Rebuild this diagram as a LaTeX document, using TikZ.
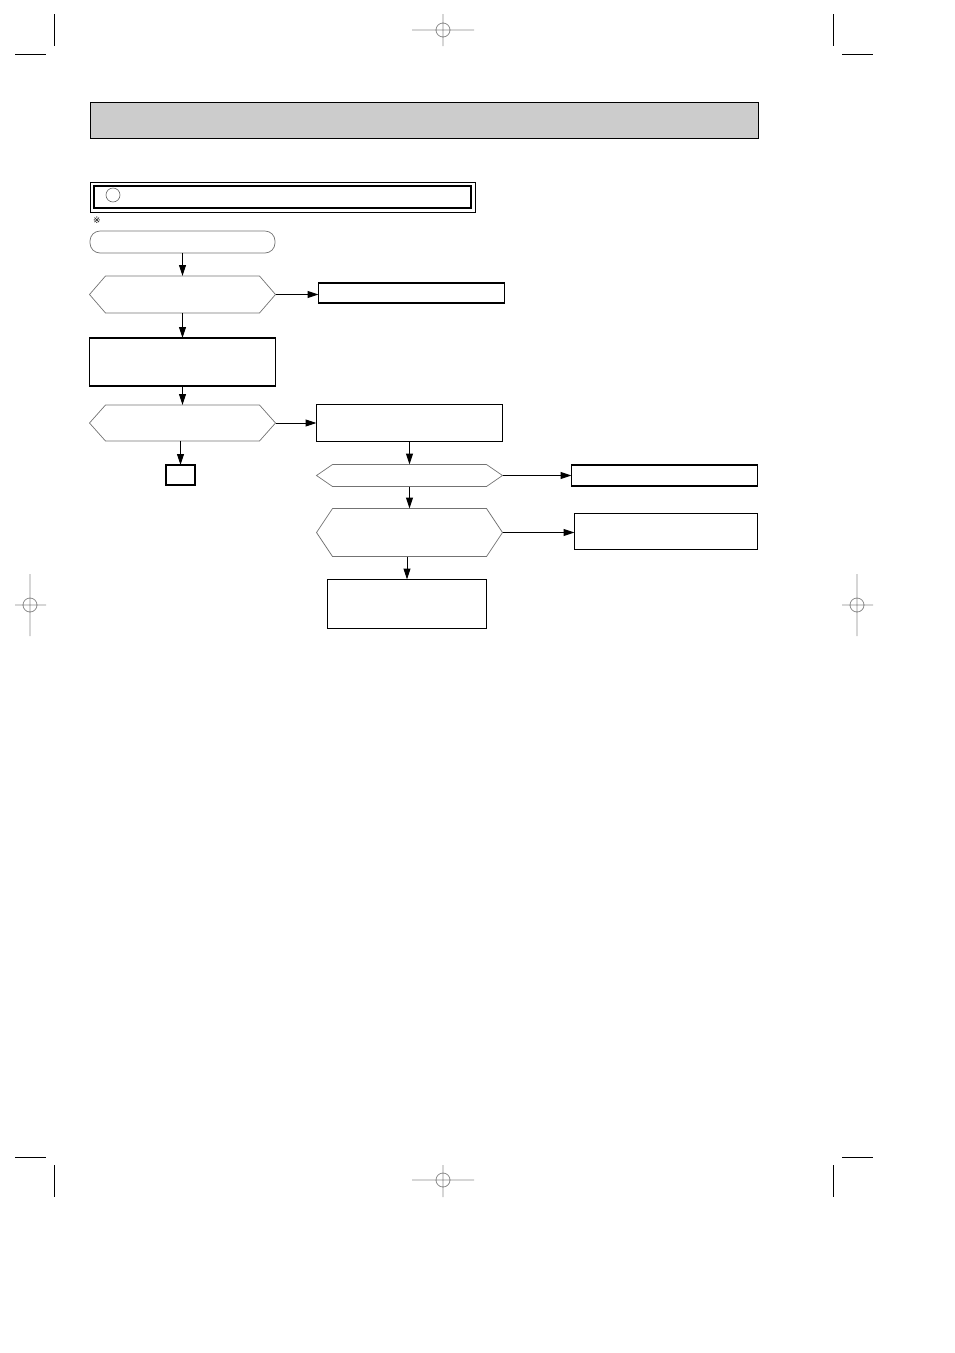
\documentclass[tikz,border=0pt]{standalone}
\usepackage{fontspec}
\newfontfamily\refmarkfont{DejaVu Sans}
\usetikzlibrary{positioning,arrows.meta,shadows}

\tikzset{
  box/.style={rectangle, draw, fill=white, line width=1.1pt, inner sep=0pt, outer sep=0pt,
    drop shadow={shadow xshift=0.9pt, shadow yshift=-0.9pt, opacity=1, fill=black}},
  startbox/.style={rectangle, rounded corners=10pt, draw=black!55, line width=0.7pt, inner sep=0pt, outer sep=0pt},
  hexbox/.style={rectangle, inner sep=0pt, outer sep=0pt},
  hexline/.style={draw=black!55, line width=0.7pt},
  flow/.style={-{Triangle[length=11pt,width=7pt]}, line width=1pt},
  cropmark/.style={line width=0.8pt},
  regmark/.style={black!45, line width=0.8pt}
}

\begin{document}
\begin{tikzpicture}[x=1pt, y=-1pt]
\useasboundingbox (0,0) rectangle (954,1353);

% crop marks
\draw[cropmark] (54,14) -- (54,46) (15,54) -- (46,54);
\draw[cropmark] (833,14) -- (833,46) (842,54) -- (873,54);
\draw[cropmark] (54,1165) -- (54,1197) (15,1157) -- (46,1157);
\draw[cropmark] (833,1165) -- (833,1197) (842,1157) -- (873,1157);

% registration marks
\draw[regmark] (443,30) circle[radius=7pt] (412,30) -- (474,30) (443,14) -- (443,46);
\draw[regmark] (443,1180) circle[radius=7pt] (412,1180) -- (474,1180) (443,1165) -- (443,1197);
\draw[regmark] (30,605) circle[radius=7pt] (15,605) -- (46,605) (30,574) -- (30,636);
\draw[regmark] (857,605) circle[radius=7pt] (842,605) -- (873,605) (857,574) -- (857,636);

% heading
\node (title) [draw, fill=black!20, line width=0.9pt, minimum width=668pt, minimum height=36pt, anchor=north west, inner sep=0pt, outer sep=0pt] at (90,102) {};
\node (head) [draw, line width=1.2pt, minimum width=377pt, minimum height=22pt, anchor=north west, inner sep=0pt, outer sep=0pt] at (94,186) {};
\draw[line width=0.8pt] ([xshift=-4pt,yshift=4pt]head.north west) rectangle ([xshift=4pt,yshift=-4pt]head.south east);
\node (ring) [circle, draw=black!60, line width=0.6pt, minimum size=14pt, inner sep=0pt] at (113,195) {};
\node (note) [font=\refmarkfont\fontsize{9}{9}\selectfont, inner sep=0pt] at (97,220) {※};

% flow chart
\node (start) [startbox, minimum width=185pt, minimum height=22pt, anchor=north west] at (90,231) {};
\node (chk1) [hexbox, minimum width=186pt, minimum height=37pt, below=23pt of start] {};
\node (res1) [box, minimum width=186pt, minimum height=20pt, right=43pt of chk1, yshift=1.5pt] {};
\node (step1) [box, minimum width=186pt, minimum height=48pt, below=25pt of chk1] {};
\node (chk2) [hexbox, minimum width=186pt, minimum height=36pt, below=19pt of step1] {};
\node (step2) [box, minimum width=186pt, minimum height=37pt, right=41pt of chk2] {};
\node (stop) [box, minimum width=29pt, minimum height=20pt, below=24pt of chk2, xshift=-2pt] {};
\node (chk3) [hexbox, minimum width=186pt, minimum height=22pt, below=23pt of step2] {};
\node (res2) [box, minimum width=186pt, minimum height=21pt, right=69pt of chk3] {};
\node (chk4) [hexbox, minimum width=186pt, minimum height=48pt, below=22pt of chk3] {};
\node (res3) [box, minimum width=183pt, minimum height=36pt, right=72pt of chk4, yshift=1pt] {};
\node (step3) [box, minimum width=159pt, minimum height=49pt, below=23pt of chk4, xshift=-2.5pt] {};

\foreach \n in {chk1,chk2,chk3,chk4}
  \draw[hexline] (\n.west) -- ([xshift=16pt]\n.north west) -- ([xshift=-16pt]\n.north east)
    -- (\n.east) -- ([xshift=-16pt]\n.south east) -- ([xshift=16pt]\n.south west) -- cycle;

\path[flow] (start) edge (chk1);
\path[flow] (chk1) edge (chk1 -| res1.west);
\path[flow] (chk1) edge (step1);
\path[flow] (step1) edge (chk2);
\path[flow] (chk2) edge (step2);
\path[flow] (chk2.south -| stop) edge (stop);
\path[flow] (step2) edge (chk3);
\path[flow] (chk3) edge (res2);
\path[flow] (chk3) edge (chk4);
\path[flow] (chk4) edge (chk4 -| res3.west);
\path[flow] (chk4.south -| step3) edge (step3);
\end{tikzpicture}
\end{document}
